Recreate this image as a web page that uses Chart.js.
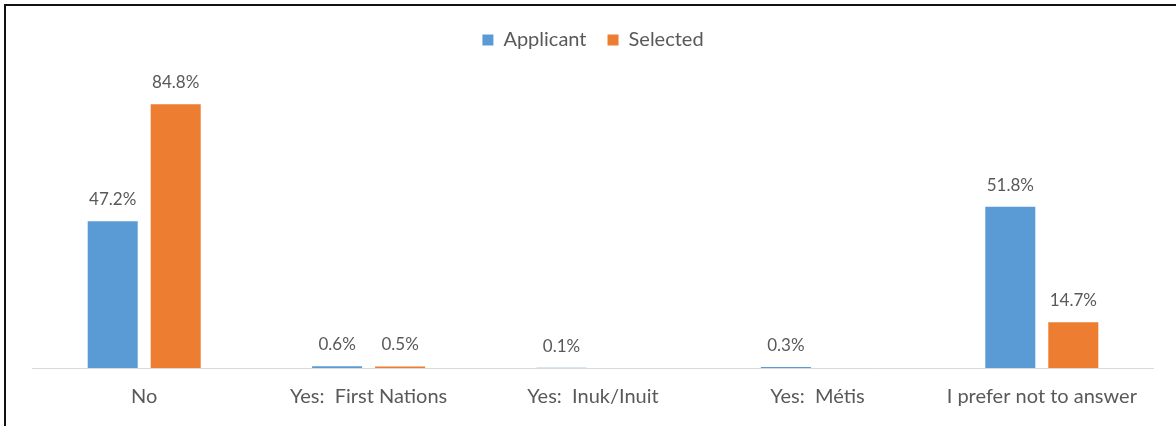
<!DOCTYPE html>
<html>
<head>
<meta charset="utf-8">
<script src="https://cdn.jsdelivr.net/npm/chart.js@4/dist/chart.umd.min.js"></script>
<style>
  html, body { margin: 0; padding: 0; background: #fff; }
  .frame {
    position: absolute; left: 4px; top: 4px;
    width: 1172px; height: 422px;
    border-left: 2px solid #111; border-top: 2px solid #111;
  }
  .frame canvas { display: block; }
</style>
</head>
<body>
<div class="frame"><canvas id="chart" width="1170" height="420"></canvas></div>
<script>
const categories = ['No', 'Yes:  First Nations', 'Yes:  Inuk/Inuit', 'Yes:  Métis', 'I prefer not to answer'];
const applicant = [47.2, 0.6, 0.1, 0.3, 51.8];
const selected = [84.8, 0.5, 0, 0, 14.7];

const textColor = '#595959';
const fontFamily = 'Lato, "Open Sans", sans-serif';

// ligne de base + etiquettes au-dessus des barres
const barLabels = {
  id: 'barLabels',
  beforeDatasetsDraw(chart) {
    const ctx = chart.ctx;
    const area = chart.chartArea;
    const y0 = Math.round(chart.scales.y.getPixelForValue(0)) + 0.5;
    ctx.save();
    ctx.strokeStyle = '#D9D9D9';
    ctx.lineWidth = 1;
    ctx.beginPath();
    ctx.moveTo(area.left, y0);
    ctx.lineTo(area.right, y0);
    ctx.stroke();
    ctx.restore();
  },
  afterDatasetsDraw(chart) {
    const ctx = chart.ctx;
    ctx.save();
    ctx.font = '17px ' + fontFamily;
    ctx.fillStyle = textColor;
    ctx.textAlign = 'center';
    ctx.textBaseline = 'alphabetic';
    chart.data.datasets.forEach((ds, i) => {
      const meta = chart.getDatasetMeta(i);
      meta.data.forEach((bar, j) => {
        const v = ds.data[j];
        if (!v) return;
        ctx.fillText(v.toFixed(1) + '%', bar.x, bar.y - 16);
      });
    });
    ctx.restore();
  }
};

new Chart(document.getElementById('chart'), {
  type: 'bar',
  data: {
    labels: categories,
    datasets: [
      { label: 'Applicant', data: applicant, backgroundColor: '#5B9BD5' },
      { label: 'Selected', data: selected, backgroundColor: '#ED7D31' }
    ]
  },
  options: {
    responsive: false,
    animation: false,
    categoryPercentage: 0.5615,
    barPercentage: 0.794,
    layout: { padding: { left: 26, right: 22, top: 3, bottom: 0 } },
    plugins: {
      legend: {
        position: 'top',
        labels: {
          boxWidth: 11, boxHeight: 11, padding: 21,
          color: textColor,
          font: { family: fontFamily, size: 20 }
        }
      },
      tooltip: { enabled: false }
    },
    scales: {
      x: {
        grid: { display: false, drawTicks: false },
        border: { display: false },
        ticks: { color: textColor, font: { family: fontFamily, size: 20 }, padding: 17, maxRotation: 0 }
      },
      y: {
        display: false,
        min: 0, max: 99
      }
    }
  },
  plugins: [barLabels]
});
</script>
</body>
</html>
